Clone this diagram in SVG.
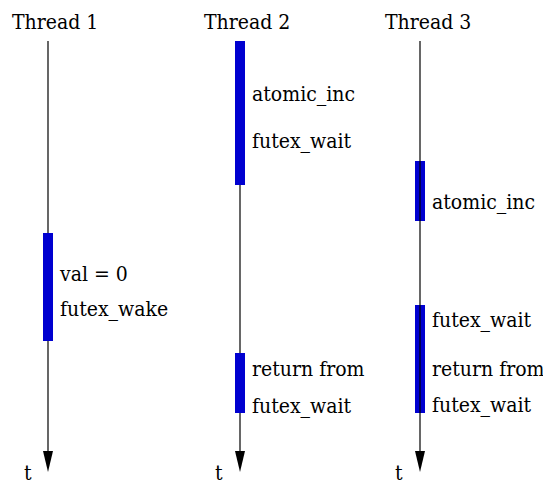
<svg xmlns="http://www.w3.org/2000/svg" width="543" height="485" viewBox="0 0 543 485">
<style>
text{font-family:'DejaVu Serif Condensed','DejaVu Serif',serif;font-stretch:condensed;font-size:21px;fill:#000}
.ln{stroke:#000;stroke-width:1.2;fill:none}
.bar{fill:#0000d0}
.ah{fill:#000}
</style>
<rect width="543" height="485" fill="#fff"/>
<g id="connectors">
<line class="ln" x1="48" y1="41" x2="48" y2="455"/>
<polygon class="ah" points="43,451 53,451 48,472"/>
<line class="ln" x1="240" y1="41" x2="240" y2="455"/>
<polygon class="ah" points="235,451 245,451 240,472"/>
</g>
<g id="thread1">
<text x="12" y="29">Thread 1</text>
<rect class="bar" x="43" y="233" width="10" height="108"/>
<text x="60" y="281">val = 0</text>
<text x="60" y="316">futex_wake</text>
<text x="24" y="480">t</text>
</g>
<g id="thread2">
<text x="204" y="29">Thread 2</text>
<rect class="bar" x="235" y="41" width="10" height="144"/>
<text x="252" y="101">atomic_inc</text>
<text x="252" y="148">futex_wait</text>
<rect class="bar" x="235" y="353" width="10" height="60"/>
<text x="252" y="376">return from</text>
<text x="252" y="413">futex_wait</text>
<text x="215" y="480">t</text>
</g>
<g id="thread3">
<text x="385" y="29">Thread 3</text>
<rect class="bar" x="415" y="161" width="10" height="60"/>
<text x="432" y="209">atomic_inc</text>
<rect class="bar" x="415" y="305" width="10" height="108"/>
<text x="432" y="327">futex_wait</text>
<text x="432" y="376">return from</text>
<text x="432" y="412">futex_wait</text>
<text x="395" y="480">t</text>
</g>
<g id="connectors3">
<line class="ln" x1="420" y1="41" x2="420" y2="455"/>
<polygon class="ah" points="415,451 425,451 420,472"/>
</g>
</svg>
